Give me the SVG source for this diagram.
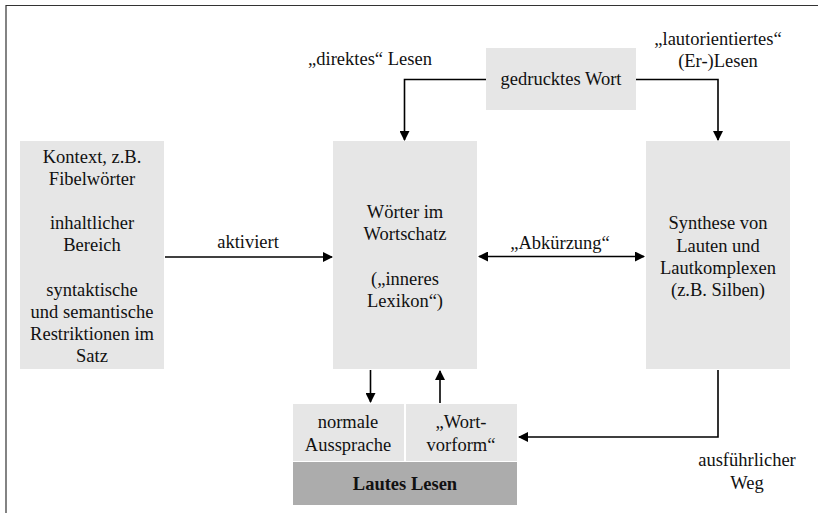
<svg xmlns="http://www.w3.org/2000/svg" width="818" height="513" viewBox="0 0 818 513">
  <style>
    .box { fill: #e6e6e6; }
    .dark { fill: #acacac; }
    text { font-family: "Liberation Serif", "Times New Roman", serif; font-size: 18.5px; fill: #111; text-anchor: middle; }
    .bold { font-weight: bold; }
    .conn { fill: none; stroke: #000; stroke-width: 1.6; }
  </style>
  <defs>
    <marker id="arrow" viewBox="0 0 10 10" refX="9" refY="5" markerWidth="10" markerHeight="10" markerUnits="userSpaceOnUse" orient="auto-start-reverse">
      <path d="M0,0 L10,5 L0,10 z" fill="#000"/>
    </marker>
  </defs>

  <rect width="818" height="513" fill="#fff"/>
  <!-- frame -->
  <path d="M6,513 V5.5 H818" fill="none" stroke="#333" stroke-width="1.2"/>

  <!-- connectors -->
  <g id="connectors">
    <path class="conn" d="M486,79.5 H404.5 V140" marker-end="url(#arrow)"/>
    <path class="conn" d="M636,79.5 H718 V140" marker-end="url(#arrow)"/>
    <path class="conn" d="M165,257 H332" marker-end="url(#arrow)"/>
    <path class="conn" d="M479,256.5 H644" marker-start="url(#arrow)" marker-end="url(#arrow)"/>
    <path class="conn" d="M370.5,370 V402" marker-end="url(#arrow)"/>
    <path class="conn" d="M440,403 V371" marker-end="url(#arrow)"/>
    <path class="conn" d="M718,370 V437 H519" marker-end="url(#arrow)"/>
    <text x="248" y="248">aktiviert</text>
    <text x="560" y="249">„Abkürzung“</text>
    <text x="370" y="65">„direktes“ Lesen</text>
    <text x="718" y="45">„lautorientiertes“</text>
    <text x="718" y="67">(Er-)Lesen</text>
    <text x="747" y="466">ausführlicher</text>
    <text x="747" y="489">Weg</text>
  </g>

  <g id="gedrucktes-wort">
    <rect class="box" x="486" y="48" width="150" height="62"/>
    <text x="561" y="85">gedrucktes Wort</text>
  </g>

  <g id="kontext">
    <rect class="box" x="20" y="141" width="144" height="228"/>
    <text x="92" y="163">Kontext, z.B.</text>
    <text x="92" y="185">Fibelwörter</text>
    <text x="92" y="229">inhaltlicher</text>
    <text x="92" y="251">Bereich</text>
    <text x="92" y="296">syntaktische</text>
    <text x="92" y="318">und semantische</text>
    <text x="92" y="340">Restriktionen im</text>
    <text x="92" y="362">Satz</text>
  </g>

  <g id="woerter">
    <rect class="box" x="333" y="141" width="144" height="228"/>
    <text x="405" y="218">Wörter im</text>
    <text x="405" y="240">Wortschatz</text>
    <text x="405" y="285">(„inneres</text>
    <text x="405" y="307">Lexikon“)</text>
  </g>

  <g id="synthese">
    <rect class="box" x="646" y="141" width="144" height="228"/>
    <text x="718" y="229">Synthese von</text>
    <text x="718" y="252">Lauten und</text>
    <text x="718" y="274">Lautkomplexen</text>
    <text x="718" y="296">(z.B. Silben)</text>
  </g>

  <g id="normale-aussprache">
    <rect class="box" x="293" y="404" width="111" height="57"/>
    <text x="348" y="428">normale</text>
    <text x="348" y="451">Aussprache</text>
  </g>

  <g id="wortvorform">
    <rect class="box" x="406" y="404" width="111" height="57"/>
    <text x="461" y="428">„Wort-</text>
    <text x="461" y="451">vorform“</text>
  </g>

  <g id="lautes-lesen">
    <rect class="dark" x="293" y="462" width="224" height="43"/>
    <text class="bold" x="405" y="490">Lautes Lesen</text>
  </g>
</svg>
